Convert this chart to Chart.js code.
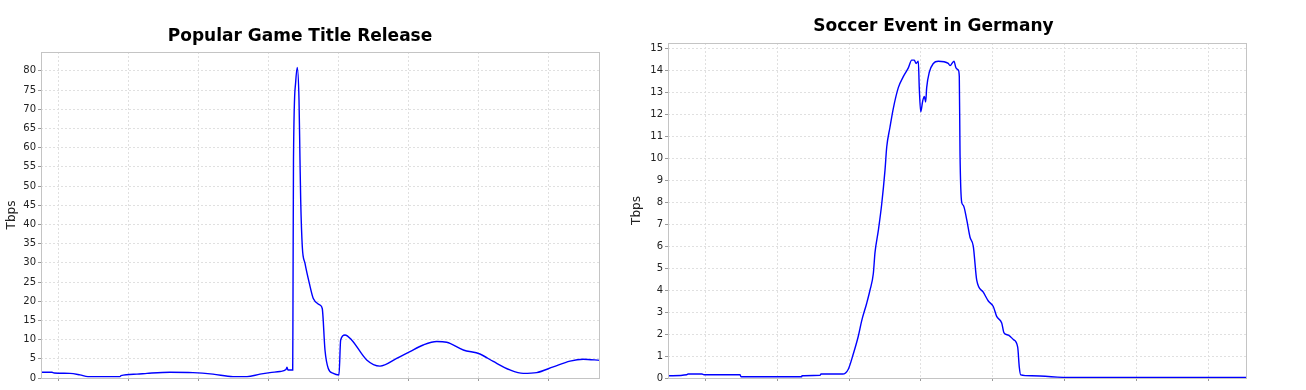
<!DOCTYPE html>
<html>
<head>
<meta charset="utf-8">
<script src="https://cdn.jsdelivr.net/npm/chart.js@4"></script>
<style>
  html, body { margin: 0; padding: 0; background: #fff; }
  #gameBox { position: absolute; left: 0; top: 0; width: 602px; height: 390px; }
  #soccerBox { position: absolute; left: 620px; top: 0; width: 633px; height: 390px; }
</style>
</head>
<body>
<div id="gameBox"><canvas id="gameChart"></canvas></div>
<div id="soccerBox"><canvas id="soccerChart"></canvas></div>
<script>
// Popular Game Title Release (x in days, one grid step per day)
const gameDays = [-0.257, -0.1, -0.07, 0.157, 0.3, 0.414, 0.871, 0.886, 1.114, 1.257,
  1.586, 1.914, 2.2, 2.486, 2.686, 2.871, 3.014, 3.157, 3.243, 3.257,
  3.271, 3.339, 3.343, 3.35, 3.381, 3.404, 3.429, 3.443, 3.453, 3.476,
  3.514, 3.576, 3.633, 3.729, 3.761, 3.8, 3.847, 3.919, 4.0, 4.024,
  4.086, 4.181, 4.396, 4.586, 4.824, 5.014, 5.204, 5.396, 5.539, 5.776,
  6.014, 6.204, 6.443, 6.633, 6.824, 7.061, 7.3, 7.49, 7.729];
const gameTbps = [1.5, 1.5, 1.3, 1.2, 0.8, 0.35, 0.35, 0.6, 1.0, 1.2,
  1.5, 1.4, 1.0, 0.35, 0.35, 1.0, 1.4, 1.7, 2.2, 2.8,
  2.1, 2.1, 20, 56.8, 77, 80.9, 72.4, 56.8, 46.4, 34.2,
  29.9, 24.7, 20.7, 19, 18.1, 7.3, 2.5, 1.2, 0.8, 9.9,
  11.2, 9.9, 4.7, 3.1, 5.1, 6.9, 8.6, 9.5, 9.3, 7.3,
  6.25, 4.3, 2.1, 1.2, 1.4, 2.9, 4.4, 4.9, 4.6];
const gameYTicks = [0, 5, 10, 15, 20, 25, 30, 35, 40, 45, 50, 55, 60, 65, 70, 75, 80];
const gameXTicks = [0, 1, 2, 3, 4, 5, 6, 7];

// Soccer Event in Germany
const soccerDays = [-0.514, -0.254, -0.236, -0.042, -0.014, 0.486, 0.5, 1.343, 1.347, 1.597,
  1.611, 1.913, 1.99, 2.06, 2.129, 2.176, 2.246, 2.292, 2.338, 2.361,
  2.407, 2.454, 2.5, 2.524, 2.569, 2.615, 2.685, 2.754, 2.824, 2.871,
  2.907, 2.931, 2.963, 2.976, 2.996, 3.024, 3.046, 3.065, 3.079, 3.115,
  3.171, 3.24, 3.379, 3.403, 3.458, 3.486, 3.518, 3.532, 3.542, 3.565,
  3.588, 3.635, 3.681, 3.726, 3.774, 3.865, 3.935, 4.004, 4.051, 4.121,
  4.153, 4.213, 4.282, 4.343, 4.365, 4.385, 4.538, 5.093, 7.528];
const soccerTbps = [0.1, 0.15, 0.18, 0.18, 0.15, 0.15, 0.06, 0.06, 0.1, 0.12,
  0.18, 0.18, 0.4, 1.1, 1.9, 2.6, 3.4, 4.0, 4.75, 5.7,
  6.7, 7.9, 9.45, 10.5, 11.4, 12.25, 13.2, 13.7, 14.1, 14.45,
  14.45, 14.3, 14.4, 13.2, 12.1, 12.6, 12.8, 12.55, 13.2, 13.9,
  14.3, 14.4, 14.3, 14.2, 14.4, 14.1, 14.0, 13.7, 10.2, 8.0,
  7.85, 7.2, 6.4, 6.0, 4.45, 3.9, 3.5, 3.25, 2.8, 2.5,
  2.05, 1.95, 1.75, 1.4, 0.5, 0.14, 0.1, 0.02, 0.02];
const soccerYTicks = [0, 1, 2, 3, 4, 5, 6, 7, 8, 9, 10, 11, 12, 13, 14, 15];
const soccerXTicks = [0, 1, 2, 3, 4, 5, 6, 7];

// grey outline round the plot, like the old java charts
const plotOutline = {
  id: 'plotOutline',
  afterDatasetsDraw(chart) {
    const a = chart.chartArea;
    const c = chart.ctx;
    c.save();
    c.strokeStyle = '#c4c4c4';
    c.lineWidth = 1;
    c.strokeRect(a.left + 0.5, a.top + 0.5, a.right - a.left - 1, a.bottom - a.top);
    c.restore();
  }
};

function makeChart(id, o) {
  return new Chart(document.getElementById(id), {
    type: 'line',
    data: {
      datasets: [{
        data: o.days.map((d, i) => ({ x: d, y: o.vals[i] })),
        borderColor: '#0000ff',
        borderWidth: 1.4,
        pointRadius: 0,
        cubicInterpolationMode: 'monotone',
        fill: false
      }]
    },
    plugins: [plotOutline],
    options: {
      responsive: true,
      maintainAspectRatio: false,
      animation: false,
      layout: { padding: { left: 0, right: o.padRight, top: 0, bottom: 0 } },
      plugins: {
        legend: { display: false },
        tooltip: { enabled: false },
        title: {
          display: true,
          text: o.title,
          color: '#000',
          font: { family: 'DejaVu Sans', size: 17, weight: 'bold' },
          padding: o.titlePad
        }
      },
      scales: {
        x: {
          type: 'linear',
          min: o.xMin,
          max: o.xMax,
          afterBuildTicks: s => { s.ticks = o.xTicks.map(v => ({ value: v })); },
          afterFit: s => { s.height = 12; },
          ticks: { display: false },
          border: { display: false, dash: [2, 2] },
          grid: { color: '#e0e0e0', tickLength: 3, tickColor: '#999' }
        },
        y: {
          min: 0,
          max: o.yMax,
          afterBuildTicks: s => { s.ticks = o.yTicks.map(v => ({ value: v })); },
          afterFit: s => { s.width = o.axisWidth; },
          border: { display: false, dash: [2, 2] },
          grid: { color: '#e0e0e0', tickLength: 3, tickColor: '#999' },
          ticks: { color: '#222', padding: 2, font: { family: 'DejaVu Sans', size: 10 } },
          title: {
            display: true,
            text: 'Tbps',
            color: '#222',
            font: { family: 'DejaVu Sans', size: 12 },
            padding: { top: o.yTitleGap, bottom: 0 }
          }
        }
      }
    }
  });
}

makeChart('gameChart', {
  title: 'Popular Game Title Release',
  days: gameDays, vals: gameTbps,
  xMin: -0.257, xMax: 7.729, xTicks: gameXTicks,
  yMax: 84.9, yTicks: gameYTicks,
  axisWidth: 41, padRight: 2, yTitleGap: 5,
  titlePad: { top: 26.8, bottom: 4.8 }
});

makeChart('soccerChart', {
  title: 'Soccer Event in Germany',
  days: soccerDays, vals: soccerTbps,
  xMin: -0.514, xMax: 7.528, xTicks: soccerXTicks,
  yMax: 15.23, yTicks: soccerYTicks,
  axisWidth: 48, padRight: 6, yTitleGap: 10,
  titlePad: { top: 16.8, bottom: 5.8 }
});
</script>
</body>
</html>
